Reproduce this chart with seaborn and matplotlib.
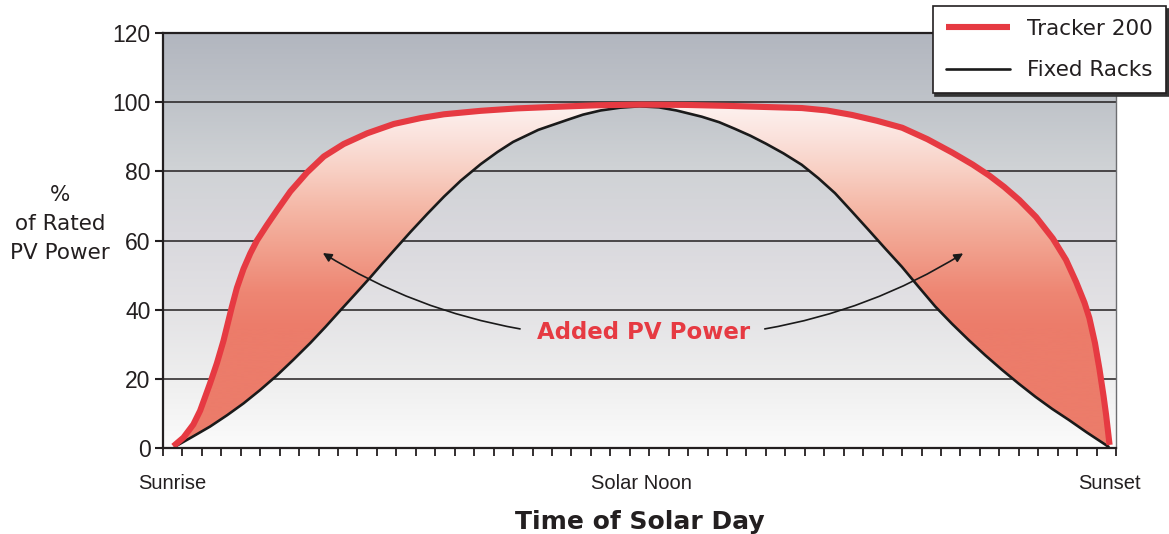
import numpy as np
import matplotlib
matplotlib.use("Agg")
import matplotlib.pyplot as plt
import seaborn as sns
from matplotlib.colors import LinearSegmentedColormap
from matplotlib.patches import Polygon

# data (x in tick units, sunrise ~0.5, sunset ~48.6)
tracker_x = [0.53, 1.05, 1.56, 1.91, 2.42, 2.77, 3.11, 3.54, 3.80, 4.14, 4.49, 4.83,
             5.35, 5.86, 6.55, 7.41, 8.27, 9.29, 10.5, 11.87, 13.25, 14.45, 16.34,
             18.2, 19.95, 22.3, 24.6, 26.9, 29.2, 31.0, 32.85, 34.14, 35.43, 36.72,
             38.01, 39.30, 40.59, 41.62, 42.48, 43.25, 44.03, 44.89, 45.75, 46.43,
             46.95, 47.38, 47.63, 47.92, 48.15, 48.36, 48.49, 48.67]
tracker_y = [0.5, 3.0, 6.8, 10.8, 18.7, 24.5, 31.0, 40.8, 46.3, 51.8, 56.3, 60.0,
             64.5, 68.7, 74.2, 79.7, 84.3, 87.9, 91.0, 93.7, 95.4, 96.5, 97.5,
             98.2, 98.6, 99.1, 99.3, 99.2, 98.9, 98.6, 98.3, 97.6, 96.3, 94.6,
             92.6, 89.3, 85.4, 82.0, 78.8, 75.5, 71.7, 66.8, 60.6, 54.4,
             48.0, 42.0, 37.6, 30.3, 22.8, 15.0, 9.6, 0.9]

fixed_x = [0.62, 1.5, 2.42, 3.3, 4.14, 5.0, 5.86, 6.7, 7.58, 8.35, 9.12, 9.9, 10.67,
           11.27, 11.87, 12.73, 13.59, 14.45, 15.31, 16.34, 17.2, 18.0, 19.3, 20.8,
           21.6, 22.5, 23.5, 24.5, 25.5, 26.4, 27.7, 28.6, 29.4, 30.2, 31.0, 31.9,
           32.84, 33.7, 34.55, 35.4, 36.27, 37.13, 37.99, 38.85, 39.71, 40.57,
           41.43, 42.28, 43.14, 44.0, 44.86, 45.72, 46.58, 47.5, 48.47, 48.62]
fixed_y = [0.4, 3.2, 6.2, 9.5, 12.9, 16.8, 21.0, 25.5, 30.4, 35.0, 39.8, 44.6, 49.4,
           53.3, 57.1, 62.5, 67.7, 72.7, 77.3, 82.1, 85.6, 88.5, 92.0, 94.9,
           96.4, 97.6, 98.4, 98.8, 98.5, 97.6, 95.8, 94.2, 92.3, 90.3, 88.0, 85.2,
           81.9, 78.0, 73.7, 68.5, 63.1, 57.7, 52.4, 46.6, 40.9, 35.9,
           31.2, 26.8, 22.6, 18.6, 14.8, 11.3, 8.1, 4.5, 0.9, 0.3]

y_ticks = [0, 20, 40, 60, 80, 100, 120]
day_labels = ["Sunrise", "Solar Noon", "Sunset"]
day_pos = [0.5, 24.6, 48.65]
n_minor = 50

RED = "#e63a42"
narrow = ["Liberation Sans Narrow", "Liberation Sans", "DejaVu Sans"]

sns.set_style("white")
plt.rcParams["font.family"] = ["DejaVu Sans"]

fig = plt.figure(figsize=(11.69, 5.34), dpi=100)
ax = fig.add_axes([163 / 1169, 1 - 448 / 534, 953 / 1169, 415 / 534])
ax.set_xlim(0, n_minor - 1)
ax.set_ylim(0, 120)

# background gradient
bg = LinearSegmentedColormap.from_list("bg", [
    (0.0, "#fbfbfb"), (0.17, "#eeeeee"), (0.35, "#e2e1e4"), (0.52, "#d9d8dd"),
    (0.68, "#cfd2d5"), (0.84, "#bfc3c9"), (1.0, "#b2b6bf")])
grad = np.linspace(0, 1, 256).reshape(-1, 1)
ax.imshow(grad, cmap=bg, extent=[0, n_minor - 1, 0, 120], origin="lower",
          aspect="auto", interpolation="bicubic", zorder=0)

for v in y_ticks[1:-1]:
    ax.axhline(v, color="#231f20", lw=1.1, zorder=1)

# gradient fill between the curves
poly = Polygon(np.column_stack([tracker_x + fixed_x[::-1], tracker_y + fixed_y[::-1]]),
               closed=True, transform=ax.transData)
fill = LinearSegmentedColormap.from_list("fill", [
    (0.0, "#ec7c6a"), (0.35, "#ec7c6a"), (0.45, "#ee8673"), (0.6, "#f2a592"),
    (0.7, "#f5b9a8"), (0.8, "#f8cfc3"), (0.9, "#fbe2dc"), (1.0, "#fdf3f1")])
im = ax.imshow(grad, cmap=fill, extent=[0, n_minor - 1, 0, 100], origin="lower",
               aspect="auto", interpolation="bicubic", zorder=2)
im.set_clip_path(poly)

sns.lineplot(x=tracker_x, y=tracker_y, ax=ax, color=RED, lw=4.4, label="Tracker 200",
             zorder=4, solid_capstyle="butt", solid_joinstyle="round")
sns.lineplot(x=fixed_x, y=fixed_y, ax=ax, color="#1a1a1a", lw=1.9, label="Fixed Racks",
             zorder=3, solid_joinstyle="round")

# annotation
ax.text(24.7, 33.5, "Added PV Power", color=RED, fontsize=16.5, fontweight="bold",
        ha="center", va="center", zorder=5)
arrow = dict(arrowstyle="-|>", color="#1a1a1a", lw=1.2, mutation_scale=13)
ax.annotate("", xy=(8.1, 56.8), xytext=(18.5, 34.3),
            arrowprops=dict(arrow, connectionstyle="arc3,rad=-0.1"), zorder=5)
ax.annotate("", xy=(41.26, 56.7), xytext=(30.8, 34.3),
            arrowprops=dict(arrow, connectionstyle="arc3,rad=0.1"), zorder=5)

# axes styling
ax.set_yticks(y_ticks)
ax.set_xticks(day_pos)
ax.set_xticklabels(day_labels)
ax.set_xticks(range(n_minor), minor=True)
ax.tick_params(axis="x", which="major", length=0, pad=19, labelsize=14.5, colors="#231f20")
ax.tick_params(axis="x", which="minor", length=6, width=1.3, direction="out",
               bottom=True, color="#231f20")
ax.tick_params(axis="y", length=6, width=1.5, direction="out", left=True, pad=3,
               labelsize=16.5, colors="#231f20")
for lab in ax.get_xticklabels() + ax.get_yticklabels():
    lab.set_fontfamily(narrow)

for s in ["left", "bottom", "top"]:
    ax.spines[s].set_color("#231f20")
    ax.spines[s].set_linewidth(1.6)
ax.spines["right"].set_color("#6d6e71")
ax.spines["right"].set_linewidth(1.0)
for s in ax.spines.values():
    s.set_zorder(6)

ax.set_xlabel("Time of Solar Day", fontsize=18, fontweight="bold", color="#231f20",
              labelpad=12)
ax.set_ylabel("%\nof Rated\nPV Power", rotation=0, fontsize=15.5, color="#231f20",
              ha="center", va="center", linespacing=1.55)
ax.yaxis.set_label_coords(-0.108, 0.54)

leg = ax.legend(loc="upper right", bbox_to_anchor=(1166 / 1169, 1 - 6 / 534),
                bbox_transform=fig.transFigure, borderaxespad=0, frameon=True,
                fancybox=False, edgecolor="#231f20", fontsize=15.5, handlelength=3.0,
                handletextpad=0.8, labelspacing=1.0, borderpad=0.6,
                shadow={"color": "#333333", "alpha": 1.0})
leg.get_frame().set_linewidth(1.2)
leg.set_zorder(10)
for t in leg.get_texts():
    t.set_color("#231f20")

fig.savefig("out.png", dpi=100)
